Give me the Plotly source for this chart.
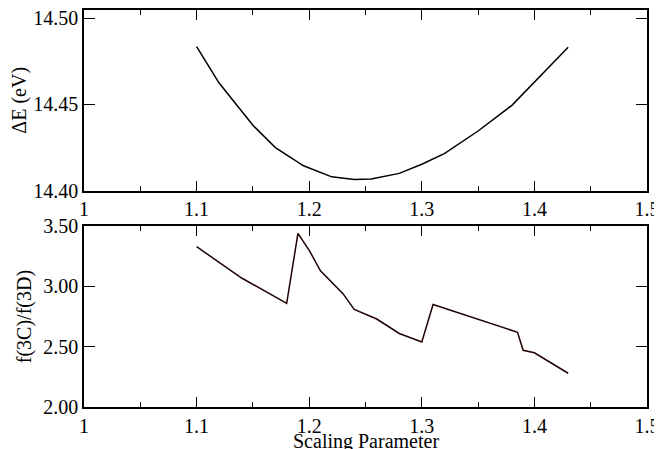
import plotly.graph_objects as go
from plotly.subplots import make_subplots

# Top panel: Delta E vs scaling parameter
x_top = [1.10, 1.12, 1.15, 1.17, 1.195, 1.22, 1.24, 1.255, 1.28, 1.30, 1.32, 1.35, 1.38, 1.40, 1.43]
dE = [14.4836, 14.4624, 14.4379, 14.4250, 14.4144, 14.4080, 14.4065, 14.4068, 14.4100,
      14.4153, 14.4215, 14.4346, 14.4495, 14.4630, 14.4832]

# Bottom panel: f(3C)/f(3D) ratio
x_bot = [1.10, 1.14, 1.18, 1.19, 1.20, 1.21, 1.23, 1.24, 1.26, 1.28, 1.30, 1.31, 1.385, 1.39, 1.40, 1.43]
ratio = [3.33, 3.07, 2.86, 3.44, 3.30, 3.13, 2.94, 2.81, 2.73, 2.61, 2.54, 2.85, 2.62, 2.47, 2.45, 2.28]

x_tickvals = [1.0, 1.1, 1.2, 1.3, 1.4, 1.5]
x_ticktext = ["1", "1.1", "1.2", "1.3", "1.4", "1.5"]
top_tickvals = [14.40, 14.45, 14.50]
top_ticktext = ["14.40", "14.45", "14.50"]
bot_tickvals = [2.0, 2.5, 3.0, 3.5]
bot_ticktext = ["2.00", "2.50", "3.00", "3.50"]

FONT = "Liberation Serif, Times New Roman, serif"

fig = make_subplots(rows=2, cols=1, shared_xaxes=False, vertical_spacing=0.09)
fig.add_trace(go.Scatter(x=x_top, y=dE, mode="lines",
                         line=dict(color="black", width=1.5), showlegend=False), row=1, col=1)
fig.add_trace(go.Scatter(x=x_bot, y=ratio, mode="lines",
                         line=dict(color="#200000", width=1.5), showlegend=False), row=2, col=1)

axis_common = dict(
    showline=True, linecolor="black", linewidth=1.5, mirror="ticks",
    ticks="inside", tickcolor="black", tickwidth=1.2,
    showgrid=False, zeroline=False, automargin=False,
    ticklabeloverflow="allow",
    tickfont=dict(family=FONT, size=20, color="black"),
)

for r in (1, 2):
    fig.update_xaxes(range=[1.0, 1.5], tickvals=x_tickvals, ticktext=x_ticktext, ticklen=10,
                     minor=dict(dtick=0.05, ticks="inside", ticklen=5, tickcolor="black", tickwidth=1.2, showgrid=False),
                     row=r, col=1, **axis_common)

fig.update_xaxes(domain=[0, 1], row=1, col=1)
fig.update_xaxes(domain=[0, 1], row=2, col=1)

fig.update_yaxes(range=[14.40, 14.5048], tickvals=top_tickvals, ticktext=top_ticktext, ticklen=11,
                 domain=[0.545, 1.0],
                 title=dict(text="ΔE (eV)", font=dict(family=FONT, size=20, color="black"), standoff=6),
                 row=1, col=1, **axis_common)
fig.update_yaxes(range=[2.0, 3.5], tickvals=bot_tickvals, ticktext=bot_ticktext, ticklen=11,
                 domain=[0.0, 0.4555],
                 title=dict(text="f(3C)/f(3D)", font=dict(family=FONT, size=20, color="black"), standoff=6),
                 row=2, col=1, **axis_common)

# x-axis title placed under the lower panel
fig.add_annotation(text="Scaling Parameter", xref="paper", yref="paper", x=0.5, y=0,
                   xanchor="center", yanchor="top", yshift=-21, showarrow=False,
                   font=dict(family=FONT, size=20, color="black"))

# page body adds an 8px offset, so the figure is sized to fill the rest of the window
fig.update_layout(
    width=654, height=441,
    margin=dict(l=76, r=15, t=2, b=42),
    paper_bgcolor="white", plot_bgcolor="white",
    font=dict(family=FONT, size=20, color="black"),
)

fig.write_html("out.html")
